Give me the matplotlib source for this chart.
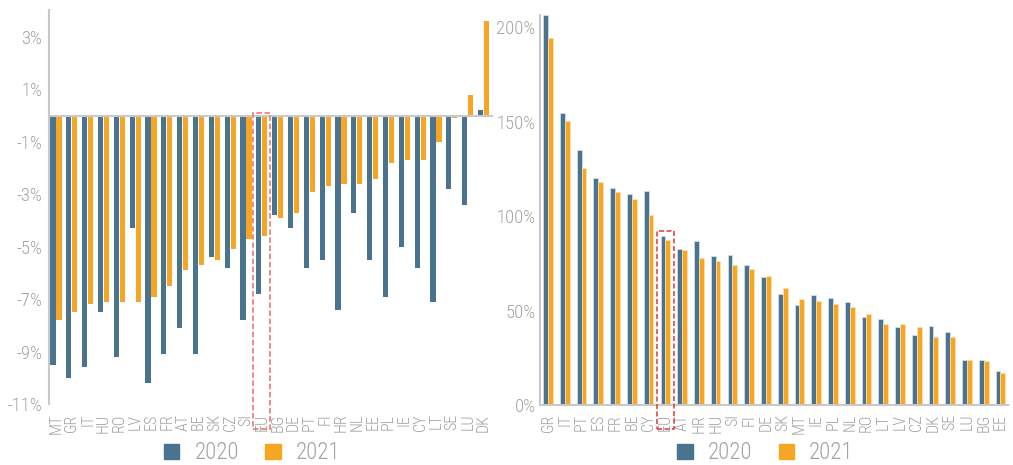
import matplotlib
matplotlib.use("Agg")
import matplotlib.pyplot as plt
from matplotlib.patches import Rectangle, Patch
import numpy as np

plt.rcParams['font.family'] = ['Roboto Condensed', 'Liberation Sans Narrow', 'DejaVu Sans']
plt.rcParams['font.stretch'] = 'condensed'
plt.rcParams['font.weight'] = 'light'

# ---- Left chart: budget balance (% of GDP) ----
left_cats = ["MT", "GR", "IT", "HU", "RO", "LV", "ES", "FR", "AT", "BE", "SK", "CZ", "SI", "EU",
             "BG", "DE", "PT", "FI", "HR", "NL", "EE", "PL", "IE", "CY", "LT", "SE", "LU", "DK"]
left_2020 = [-9.5, -10.0, -9.6, -7.5, -9.2, -4.3, -10.2, -9.1, -8.1, -9.1, -5.4, -5.8, -7.8, -6.8,
             -3.8, -4.3, -5.8, -5.5, -7.4, -3.7, -5.5, -6.9, -5.0, -5.8, -7.1, -2.8, -3.4, 0.2]
left_2021 = [-7.8, -7.5, -7.2, -7.1, -7.1, -7.1, -6.9, -6.5, -5.9, -5.7, -5.5, -5.1, -4.7, -4.6,
             -3.9, -3.7, -2.9, -2.7, -2.6, -2.6, -2.4, -1.8, -1.7, -1.7, -1.0, -0.1, 0.8, 3.6]
left_yticks = [3, 1, -1, -3, -5, -7, -9, -11]

# ---- Right chart: public debt (% of GDP) ----
right_cats = ["GR", "IT", "PT", "ES", "FR", "BE", "CY", "EU", "AT", "HR", "HU", "SI", "FI", "DE",
              "SK", "MT", "IE", "PL", "NL", "RO", "LT", "LV", "CZ", "DK", "SE", "LU", "BG", "EE"]
right_2020 = [206.3, 154.7, 134.8, 120.2, 114.8, 111.8, 113.5, 89.7, 82.9, 86.8, 79.0, 79.5, 74.4, 67.7,
              58.8, 53.1, 58.2, 56.8, 54.5, 46.8, 45.9, 41.6, 37.3, 42.0, 39.0, 24.0, 24.0, 18.2]
right_2021 = [194.3, 150.2, 125.3, 118.1, 112.7, 109.1, 100.7, 87.5, 82.0, 78.1, 76.4, 74.2, 72.1, 68.4,
              61.9, 56.1, 55.2, 53.6, 52.2, 48.3, 43.2, 43.2, 41.6, 36.0, 36.0, 24.0, 23.7, 17.3]
right_yticks = [0, 50, 100, 150, 200]

series_labels = ["2020", "2021"]
BLUE = "#4a7390"
ORANGE = "#f6a623"
GRAY_TXT = "#a3a3a3"
AXIS = "#c9c9c9"

fig = plt.figure(figsize=(10.13, 4.65), dpi=100)

# Left axes
axL = fig.add_axes([0.0484, 0.1312, 0.4383, 0.8473])
xL = np.arange(len(left_cats))
axL.bar(xL - 0.19, left_2020, width=0.32, color=BLUE, zorder=2)
axL.bar(xL + 0.19, left_2021, width=0.32, color=ORANGE, zorder=2)
axL.axhline(0, color=AXIS, lw=1.5, zorder=3)
axL.set_xlim(-0.44, len(left_cats) - 1 + 0.6)
axL.set_ylim(-11, 4.03)
axL.set_yticks(left_yticks)
axL.set_yticklabels([f"{v}%" for v in left_yticks])
axL.set_xticks(xL)
axL.set_xticklabels(left_cats, rotation=90)
for s in ["top", "right", "bottom"]:
    axL.spines[s].set_visible(False)
axL.spines["left"].set_color(AXIS)
axL.spines["left"].set_linewidth(1.5)
axL.tick_params(axis="y", length=0, pad=5, labelsize=13.5, labelcolor=GRAY_TXT)
axL.tick_params(axis="x", length=0, pad=7, labelsize=11.5, labelcolor=GRAY_TXT)
iEU = left_cats.index("EU")
axL.add_patch(Rectangle((iEU - 0.53, -11.97), 1.06, 12.08, fill=False, ec="#ee8080",
                        lw=1.3, ls=(0, (3, 1.5)), clip_on=False, zorder=4))

# Right axes
axR = fig.add_axes([0.5331, 0.128, 0.462, 0.8398])
xR = np.arange(len(right_cats))
axR.bar(xR - 0.145, right_2020, width=0.29, color=BLUE, ec="#dbe4ec", lw=0.5, zorder=2)
axR.bar(xR + 0.145, right_2021, width=0.29, color=ORANGE, ec="#fbe2b8", lw=0.5, zorder=2)
axR.set_xlim(-0.48, len(right_cats) - 1 + 0.45)
axR.set_ylim(0, 206.3)
axR.set_yticks(right_yticks)
axR.set_yticklabels([f"{v}%" for v in right_yticks])
axR.set_xticks(xR)
axR.set_xticklabels(right_cats, rotation=90)
for s in ["top", "right"]:
    axR.spines[s].set_visible(False)
for s in ["left", "bottom"]:
    axR.spines[s].set_color(AXIS)
    axR.spines[s].set_linewidth(1.5)
axR.tick_params(axis="y", length=0, pad=3, labelsize=13.5, labelcolor=GRAY_TXT)
axR.tick_params(axis="x", length=0, pad=6, labelsize=11.5, labelcolor=GRAY_TXT)
jEU = right_cats.index("EU")
axR.add_patch(Rectangle((jEU - 0.5, -12.6), 1.0, 104.8, fill=False, ec="#e24848",
                        lw=1.2, ls=(0, (3, 1.5)), clip_on=False, zorder=4))

# Legends
handles = [Patch(color=BLUE, label=series_labels[0]), Patch(color=ORANGE, label=series_labels[1])]
for cx in (0.2488, 0.7557):
    leg = fig.legend(handles=handles, loc="center", bbox_to_anchor=(cx, 0.026), ncol=2,
                     frameon=False, fontsize=16.5, handlelength=0.68, handleheight=0.68,
                     handletextpad=0.65, columnspacing=1.15, borderpad=0, borderaxespad=0)
    for t in leg.get_texts():
        t.set_color(GRAY_TXT)

fig.savefig("out.png", dpi=100)
